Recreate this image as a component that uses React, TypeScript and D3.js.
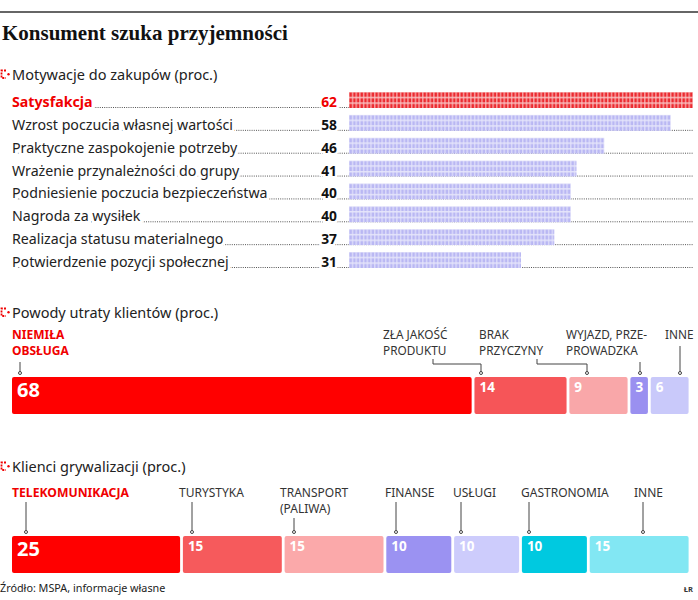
import React from "react";
import * as d3 from "d3";

// Motywacje do zakupów
const motiveLabels = [
  "Satysfakcja",
  "Wzrost poczucia własnej wartości",
  "Praktyczne zaspokojenie potrzeby",
  "Wrażenie przynależności do grupy",
  "Podniesienie poczucia bezpieczeństwa",
  "Nagroda za wysiłek",
  "Realizacja statusu materialnego",
  "Potwierdzenie pozycji społecznej",
];
const motiveValues = [62, 58, 46, 41, 40, 40, 37, 31];

// Powody utraty klientów
const lossLabels = [
  ["NIEMIŁA", "OBSŁUGA"],
  ["ZŁA JAKOŚĆ", "PRODUKTU"],
  ["BRAK", "PRZYCZYNY"],
  ["WYJAZD, PRZE-", "PROWADZKA"],
  ["INNE"],
];
const lossValues = [68, 14, 9, 3, 6];
const lossColors = ["#ff0000", "#f65558", "#f9a7a9", "#9a90f0", "#c9c9fa"];

// Klienci grywalizacji
const gameLabels = [
  ["TELEKOMUNIKACJA"],
  ["TURYSTYKA"],
  ["TRANSPORT", "(PALIWA)"],
  ["FINANSE"],
  ["USŁUGI"],
  ["GASTRONOMIA"],
  ["INNE"],
];
const gameValues = [25, 15, 15, 10, 10, 10, 15];
const gameColors = ["#ff0000", "#f65a5c", "#fba9aa", "#9b92f2", "#cdccfc", "#00c9e0", "#82e7f3"];

const W = 698;
const H = 600;
const FONT = "'Noto Sans', sans-serif";
const RED = "#f00000";
const INK = "#222";

// annotation positions (layout, not data)
const lossLayout = [
  { x: 12, anchor: 20, elbow: null as number | null, top: 362 },
  { x: 383, anchor: 481, elbow: 433, top: 359 },
  { x: 479, anchor: 587, elbow: 537, top: 359 },
  { x: 566, anchor: 640, elbow: null, top: 362 },
  { x: 665, anchor: 680, elbow: null, top: 346 },
];
const gameLayout = [
  { x: 12, anchor: 26, top: 502 },
  { x: 179, anchor: 192, top: 502 },
  { x: 280, anchor: 294, top: 518 },
  { x: 385, anchor: 396, top: 502 },
  { x: 453, anchor: 461, top: 502 },
  { x: 521, anchor: 529, top: 502 },
  { x: 634, anchor: 643, top: 502 },
];

const Icon: React.FC<{ y: number }> = ({ y }) => (
  <g transform={`translate(0,${y})`}>
    <path d="M6,-9.5 L1.5,-9.5 L1.5,-2 L6,-2" fill="none" stroke={RED} strokeWidth={1.8} strokeDasharray="2,1.2" />
    <circle cx={8.5} cy={-5.7} r={1.2} fill={RED} />
  </g>
);

function stack(values: number[]) {
  let acc = 0;
  return values.map((v) => {
    const s = acc;
    acc += v;
    return { start: s, end: acc, value: v };
  });
}

const App: React.FC = () => {
  const x1 = d3.scaleLinear().domain([0, 62]).range([349, 693]);
  const rowY = d3.scalePoint<number>().domain(d3.range(motiveLabels.length)).range([107, 267]);

  const xs = d3.scaleLinear().domain([0, 100]).range([12, 690]);
  const lossStack = stack(lossValues);
  const gameStack = stack(gameValues);
  const gap = 1.4;

  const lossBar = { y: 377, h: 37 };
  const gameBar = { y: 536, h: 37 };

  // white halo hides the dotted leader behind the text
  const halo = { stroke: "#fff", strokeWidth: 6, paintOrder: "stroke" as const, strokeLinejoin: "round" as const };

  return (
    <svg
      width={W}
      height={H}
      style={{ position: "absolute", left: 0, top: 0, background: "#fff" }}
      fontFamily={FONT}
    >
      <defs>
        {motiveValues.map((v, i) => {
          const by = rowY(i)! - 15;
          const main = i === 0 ? "#ec2a30" : "#b9b7f3";
          const bg = i === 0 ? "#f9c4c4" : "#e6e6fb";
          return (
            <pattern
              key={i}
              id={`pat${i}`}
              patternUnits="userSpaceOnUse"
              x={349}
              y={by}
              width={3.7}
              height={17 / 3}
            >
              <rect width={3.7} height={17 / 3} fill={bg} />
              <rect x={0.4} y={0.5} width={2.6} height={17 / 3 - 1.4} fill={main} />
            </pattern>
          );
        })}
      </defs>

      <line x1={0} x2={W} y1={12} y2={12} stroke="#666" strokeWidth={2} />
      <text x={2} y={40} fontFamily="'Liberation Serif', serif" fontWeight="bold" fontSize={21} fill="#111">
        Konsument szuka przyjemności
      </text>

      {/* Section 1 */}
      <Icon y={80} />
      <text x={12} y={80} fontSize={14.5} fill={INK}>
        Motywacje do zakupów (proc.)
      </text>
      {motiveValues.map((v, i) => {
        const y = rowY(i)!;
        const first = i === 0;
        return (
          <g key={i}>
            <line x1={14} x2={693} y1={y + 0.5} y2={y + 0.5} stroke="#555" strokeWidth={1} strokeDasharray="1,1.2" />
            <text
              x={12}
              y={y}
              fontSize={14.2}
              fontWeight={first ? "bold" : "normal"}
              fill={first ? RED : INK}
              {...halo}
            >
              {motiveLabels[i]}
            </text>
            <text
              x={337}
              y={y}
              fontSize={13.8}
              fontWeight="bold"
              textAnchor="end"
              fill={first ? RED : "#111"}
              {...halo}
              strokeWidth={5}
            >
              {v}
            </text>
            <rect x={x1(0)} y={y - 15} width={x1(v) - x1(0)} height={16} fill={`url(#pat${i})`} />
          </g>
        );
      })}

      {/* Section 2 */}
      <Icon y={318} />
      <text x={12} y={318} fontSize={14.5} fill={INK}>
        Powody utraty klientów (proc.)
      </text>
      {lossStack.map((d, i) => {
        const x0 = xs(d.start) + (i > 0 ? gap : 0);
        const xe = xs(d.end) - gap;
        const big = i === 0;
        const L = lossLayout[i];
        const pts =
          L.elbow !== null
            ? `M${L.elbow},${L.top} V364 H${L.anchor} V${lossBar.y - 4}`
            : `M${L.anchor},${L.top} V${lossBar.y - 4}`;
        return (
          <g key={i}>
            <rect x={x0} y={lossBar.y} width={xe - x0} height={lossBar.h} rx={2} fill={lossColors[i]} />
            <text
              x={x0 + 5}
              y={big ? lossBar.y + 20 : lossBar.y + 15}
              fontSize={big ? 20 : 13.5}
              fontWeight="bold"
              fill="#fff"
            >
              {d.value}
            </text>
            {lossLabels[i].map((t, k) => (
              <text
                key={k}
                x={L.x}
                y={339 + k * 16}
                fontSize={big ? 12 : 11.8}
                fontWeight={big ? "bold" : "normal"}
                fill={big ? RED : "#333"}
              >
                {t}
              </text>
            ))}
            <path d={pts} fill="none" stroke="#444" strokeWidth={1} />
            <circle cx={L.anchor} cy={lossBar.y - 4} r={1.5} fill="#fff" stroke="#444" strokeWidth={1} />
          </g>
        );
      })}

      {/* Section 3 */}
      <Icon y={472} />
      <text x={12} y={472} fontSize={14.5} fill={INK}>
        Klienci grywalizacji (proc.)
      </text>
      {gameStack.map((d, i) => {
        const x0 = xs(d.start) + (i > 0 ? gap : 0);
        const xe = xs(d.end) - gap;
        const big = i === 0;
        const L = gameLayout[i];
        return (
          <g key={i}>
            <rect x={x0} y={gameBar.y} width={xe - x0} height={gameBar.h} rx={2} fill={gameColors[i]} />
            <text
              x={x0 + 5}
              y={big ? gameBar.y + 20 : gameBar.y + 15}
              fontSize={big ? 20 : 13.5}
              fontWeight="bold"
              fill="#fff"
            >
              {d.value}
            </text>
            {gameLabels[i].map((t, k) => (
              <text
                key={k}
                x={L.x}
                y={497 + k * 16}
                fontSize={big ? 12.2 : 12}
                fontWeight={big ? "bold" : "normal"}
                fill={big ? RED : "#333"}
              >
                {t}
              </text>
            ))}
            <line x1={L.anchor} x2={L.anchor} y1={L.top} y2={gameBar.y - 4} stroke="#444" strokeWidth={1} />
            <circle cx={L.anchor} cy={gameBar.y - 4} r={1.5} fill="#fff" stroke="#444" strokeWidth={1} />
          </g>
        );
      })}

      <text x={0} y={592} fontSize={10.8} fill="#222">
        Źródło: MSPA, informacje własne
      </text>
      <text x={693} y={592} fontSize={7.5} fontWeight="bold" textAnchor="end" fill="#333">
        ŁR
      </text>
    </svg>
  );
};

export default App;
